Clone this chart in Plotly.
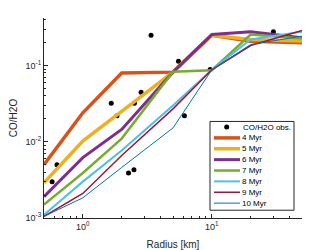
import plotly.graph_objects as go

radius = [0.5, 1, 2, 5, 10, 20, 50]
series_names = ["4 Myr", "5 Myr", "6 Myr", "7 Myr", "8 Myr", "9 Myr", "10 Myr"]
co_4 = [0.0050, 0.024, 0.080, 0.082, 0.25, 0.208, 0.199]
co_5 = [0.0029, 0.0102, 0.025, 0.082, 0.25, 0.22, 0.21]
co_6 = [0.0019, 0.0062, 0.0145, 0.082, 0.255, 0.277, 0.231]
co_7 = [0.0015, 0.0039, 0.011, 0.083, 0.087, 0.255, 0.226]
co_8 = [0.0011, 0.0030, 0.0077, 0.030, 0.088, 0.22, 0.277]
co_9 = [0.00105, 0.0021, 0.0066, 0.027, 0.088, 0.183, 0.288]
co_10 = [0.00105, 0.00184, 0.0046, 0.0152, 0.088, 0.189, 0.243]
series_values = [co_4, co_5, co_6, co_7, co_8, co_9, co_10]

obs_name = "CO/H2O obs."
obs_radius = [3.38, 1.66, 1.84, 2.51, 2.83, 5.51, 9.7, 30, 6.13, 0.63, 0.578, 2.26, 2.49]
obs_ratio = [0.25, 0.032, 0.022, 0.032, 0.0446, 0.114, 0.0886, 0.277, 0.022, 0.005, 0.003, 0.0039, 0.0043]

x_tick_vals = [1, 10]
x_tick_text = ["10<sup>0</sup>", "10<sup>1</sup>"]
y_tick_vals = [0.001, 0.01, 0.1]
y_tick_text = ["10<sup>-3</sup>", "10<sup>-2</sup>", "10<sup>-1</sup>"]

colors = ["#D95319", "#EDB120", "#7E2F8E", "#77AC30", "#4DBEEE", "#A2142F", "#0072BD"]
widths = [3.5, 3.5, 3, 2.5, 2, 1.5, 1]

# page body has an 8px margin; figure is placed at (8, 8) in the window
OFF = 8
W, H = 333 - OFF, 250 - OFF
PL, PR, PT, PB = 44, 302, 18, 218.5   # plot area in window pixels
ML, MT = PL - OFF, PT - OFF
MR, MB = W - (PR - OFF), H - (PB - OFF)
PW, PH = PR - PL, PB - PT


def px_x(p):
    return (p - PL) / PW


def px_y(p):
    return (PB - p) / PH


fig = go.Figure()
fig.add_trace(go.Scatter(x=obs_radius, y=obs_ratio, mode="markers", name=obs_name,
                         marker=dict(color="black", size=5), showlegend=False))
for name, vals, c, w in zip(series_names, series_values, colors, widths):
    fig.add_trace(go.Scatter(x=radius, y=vals, mode="lines", name=name,
                             line=dict(color=c, width=w), showlegend=False))

# compact MATLAB-like legend
axis_color = "#262626"
shapes = [dict(type="rect", xref="paper", yref="paper",
               x0=px_x(210), x1=px_x(294), y0=px_y(210.7), y1=px_y(121.7),
               line=dict(color=axis_color, width=1), fillcolor="white", layer="above")]
annotations = []
row_y = [127.3 + 10.9 * i for i in range(8)]
shapes.append(dict(type="circle", xref="paper", yref="paper", layer="above",
                   xsizemode="pixel", ysizemode="pixel",
                   xanchor=px_x(226.7), yanchor=px_y(row_y[0]),
                   x0=-2.5, x1=2.5, y0=-2.5, y1=2.5,
                   fillcolor="black", line=dict(color="black", width=0)))
annotations.append(dict(xref="paper", yref="paper", x=px_x(240.5), y=px_y(row_y[0]),
                        text=obs_name, showarrow=False, xanchor="left", yanchor="middle",
                        font=dict(size=8, color="black")))
for i, (name, c, w) in enumerate(zip(series_names, colors, widths)):
    yy = px_y(row_y[i + 1])
    shapes.append(dict(type="line", xref="paper", yref="paper", layer="above",
                       x0=px_x(214), x1=px_x(240), y0=yy, y1=yy,
                       line=dict(color=c, width=w)))
    annotations.append(dict(xref="paper", yref="paper", x=px_x(239.5), y=yy,
                            text=name, showarrow=False, xanchor="left", yanchor="middle",
                            font=dict(size=8, color="black")))

minor_x = [0.6, 0.7, 0.8, 0.9] + [k for k in range(2, 10)] + [20, 30, 40]
minor_y = [k * 1e-3 for k in range(2, 10)] + [k * 1e-2 for k in range(2, 10)] + [0.2, 0.3, 0.4]

fig.update_layout(
    width=W, height=H,
    margin=dict(l=ML, r=MR, t=MT, b=MB, autoexpand=False),
    paper_bgcolor="white", plot_bgcolor="white",
    font=dict(family="Liberation Sans, Arial, sans-serif", size=9, color=axis_color),
    showlegend=False,
    shapes=shapes, annotations=annotations,
)
fig.update_xaxes(type="log", range=[0.69897 - 1, 1.69897], automargin=False,
                 tickvals=x_tick_vals, ticktext=x_tick_text,
                 ticks="inside", ticklen=4, tickcolor=axis_color,
                 showline=True, linecolor=axis_color, linewidth=1,
                 showgrid=False, zeroline=False,
                 minor=dict(tickvals=minor_x, ticks="inside", ticklen=2, tickcolor=axis_color),
                 title=dict(text="Radius [km]", font=dict(size=10), standoff=12))
fig.update_yaxes(type="log", range=[-3, -0.376], automargin=False,
                 tickvals=y_tick_vals, ticktext=y_tick_text,
                 ticks="inside", ticklen=4, tickcolor=axis_color,
                 showline=True, linecolor=axis_color, linewidth=1,
                 showgrid=False, zeroline=False,
                 minor=dict(tickvals=minor_y, ticks="inside", ticklen=2, tickcolor=axis_color),
                 title=dict(text="CO/H2O", font=dict(size=10), standoff=6))

fig.write_html("out.html")
